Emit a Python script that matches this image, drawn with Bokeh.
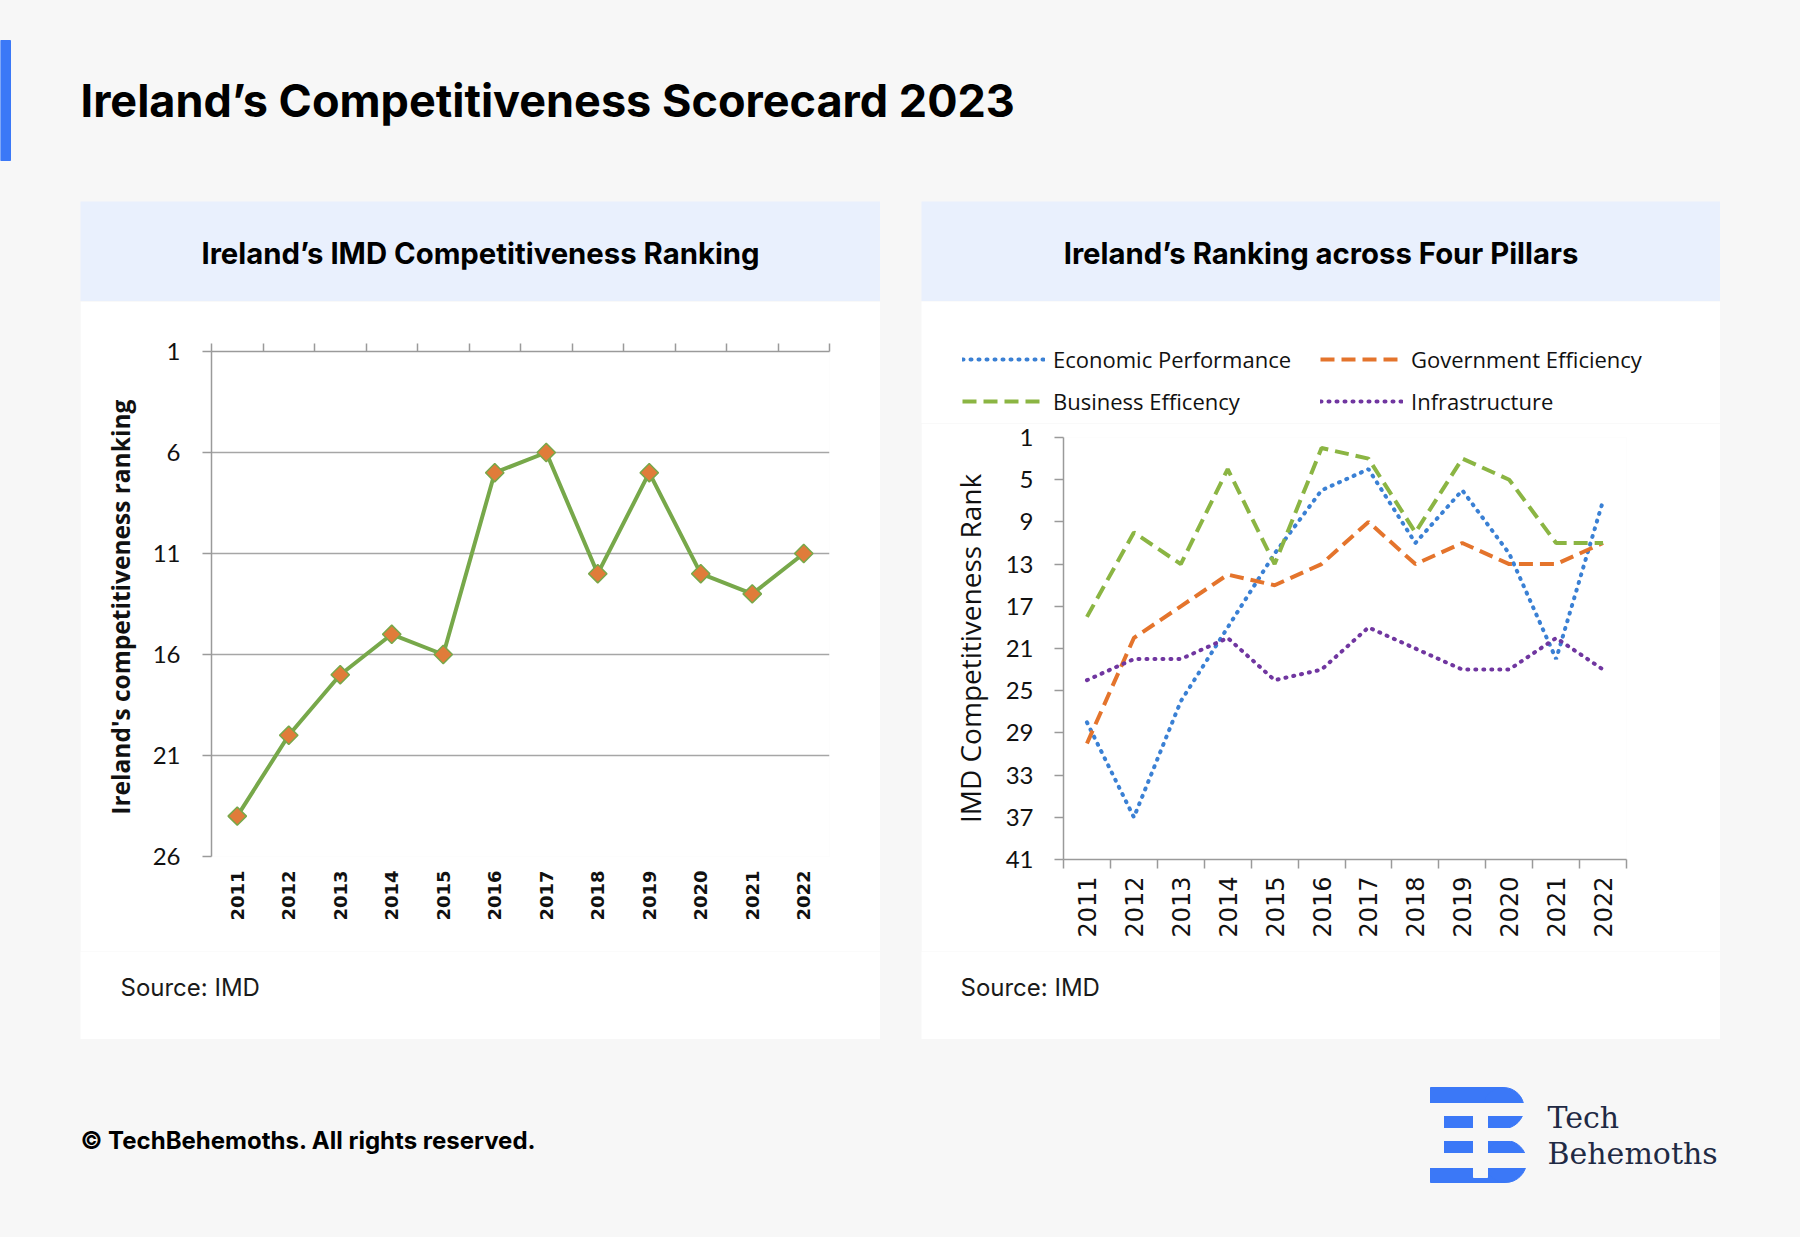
import numpy as np
from bokeh.plotting import figure
from bokeh.models import (Range1d, FactorRange, LinearAxis, CategoricalAxis, FixedTicker,
                          Label, Legend, LegendItem, Spacer)
from bokeh.layouts import column, row
from bokeh.embed import file_html
from bokeh.resources import INLINE

# ---------------- data ----------------
years = ["2011", "2012", "2013", "2014", "2015", "2016", "2017", "2018", "2019", "2020", "2021", "2022"]
overall_rank = [24, 20, 17, 15, 16, 7, 6, 12, 7, 12, 13, 11]
left_ticks = [1, 6, 11, 16, 21, 26]

econ_perf = [28, 37, 26, 19, 12, 6, 4, 11, 6, 12, 22, 7]
gov_eff = [30, 20, 17, 14, 15, 13, 9, 13, 11, 13, 13, 11]
bus_eff = [18, 10, 13, 4, 13, 2, 3, 10, 3, 5, 11, 11]
infra = [24, 22, 22, 20, 24, 23, 19, 21, 23, 23, 20, 23]
right_ticks = [1, 5, 9, 13, 17, 21, 25, 29, 33, 37, 41]

pillar_names = ["Economic Performance", "Government Efficiency", "Business Efficency", "Infrastructure"]

# ---------------- styles ----------------
BG = "#F7F7F7"
BAND = "#E9F0FD"
AX = "#9A9A9A"
GRID = "#A6A6A6"
GREEN = "#77A84A"
ORANGE_MK = "#E07C3A"
C_EP = "#3A80D4"
C_GE = "#E4742C"
C_BE = "#8BB543"
C_IN = "#7036A0"
STYLES = [dict(line_color=C_EP, line_dash="1 7", line_cap="round"),
          dict(line_color=C_GE, line_dash="14 7"),
          dict(line_color=C_BE, line_dash="14 7"),
          dict(line_color=C_IN, line_dash="1 7", line_cap="round")]

L_W, R_W = 800, 799


def canvas(w, h, xr, yr, fill):
    p = figure(width=w, height=h, x_range=xr, y_range=yr, output_backend="svg",
               toolbar_location=None, tools="", x_axis_location=None, y_axis_location=None,
               min_border=0)
    p.outline_line_color = None
    p.background_fill_color = fill
    p.border_fill_color = fill
    p.grid.visible = False
    return p


# ---------------- top header ----------------
top = canvas(1800, 201, Range1d(0, 1800), Range1d(201, 0), BG)
top.quad(left=0, right=10, top=40, bottom=160, color="#3B78F7")
top.add_layout(Label(x=80, y=100, text="Ireland\u2019s Competitiveness Scorecard 2023",
                     text_font="Inter", text_font_style="bold", text_font_size="45px",
                     text_color="#000000", text_baseline="middle"))


def panel_header(w, text):
    h = canvas(w, 100, Range1d(0, w), Range1d(301, 201), BAND)
    h.add_layout(Label(x=w / 2, y=253, text=text, text_font="Inter", text_font_style="bold",
                       text_font_size="29.3px", text_color="#000000",
                       text_align="center", text_baseline="middle"))
    return row(h, spacing=0)


def source_fig(w, x):
    s = canvas(w, 88, Range1d(0, w), Range1d(1039, 951), "white")
    s.add_layout(Label(x=x, y=987, text="Source: IMD", text_font="Inter",
                       text_font_size="24px", text_color="#1a1a1a", text_baseline="middle"))
    return row(s, spacing=0)


def boundary_axis(tick_len):
    # ticks on the category boundaries (synthetic coordinates 0..n of the factor range)
    bounds = list(range(len(years) + 1))
    return LinearAxis(ticker=FixedTicker(ticks=bounds),
                      major_label_overrides={b: "" for b in bounds},
                      major_label_text_font_size="1px", major_label_standoff=0,
                      major_tick_out=tick_len, major_tick_in=0, minor_tick_out=0, minor_tick_in=0,
                      axis_line_color=AX, axis_line_width=1.5, major_tick_line_color=AX,
                      major_tick_line_width=1.5)


# ---------------- left chart ----------------
lc = figure(width=L_W, height=650, x_range=FactorRange(*years, range_padding=0),
            y_range=Range1d(left_ticks[-1], left_ticks[0]), output_backend="svg",
            toolbar_location=None, tools="", x_axis_location=None, y_axis_location="left",
            min_border_left=131, min_border_right=51, min_border_top=50, min_border_bottom=95)
lc.outline_line_color = None
lc.background_fill_color = "white"
lc.border_fill_color = "white"
lc.xgrid.visible = False
lc.ygrid.ticker = FixedTicker(ticks=left_ticks)
lc.ygrid.grid_line_color = GRID
lc.ygrid.grid_line_width = 1.5

ya = lc.yaxis[0]
ya.ticker = FixedTicker(ticks=left_ticks)
ya.axis_line_color = AX
ya.axis_line_width = 1.5
ya.major_tick_line_color = AX
ya.major_tick_line_width = 1.5
ya.major_tick_out = 9
ya.major_tick_in = 0
ya.minor_tick_out = 0
ya.minor_tick_in = 0
ya.major_label_standoff = 22
ya.major_label_text_font = "Lato"
ya.major_label_text_font_size = "24px"
ya.major_label_text_color = "#111111"
ya.axis_label = "Ireland's  competitiveness ranking"
ya.axis_label_text_font = "Open Sans"
ya.axis_label_text_font_style = "bold"
ya.axis_label_text_font_size = "24.5px"
ya.axis_label_text_color = "#111111"
ya.axis_label_standoff = 13

lc.add_layout(boundary_axis(8), "above")

lx = CategoricalAxis(axis_line_color=None, major_tick_line_color=None, minor_tick_line_color=None,
                     major_label_orientation=np.pi / 2, major_label_standoff=8,
                     major_label_text_font="DejaVu Sans", major_label_text_font_style="bold",
                     major_label_text_font_size="18px", major_label_text_color="#111111")
lc.add_layout(lx, "below")

lc.line(x=years, y=overall_rank, line_color=GREEN, line_width=4)
lc.scatter(x=years, y=overall_rank, marker="square", angle=np.pi / 4, size=13,
           fill_color=ORANGE_MK, line_color=GREEN, line_width=1.5)

# ---------------- right chart ----------------
# legend strip above the chart (page y 301..423); key lines carry no visible points
lg = canvas(R_W, 122, Range1d(0, R_W), Range1d(423, 301), "white")
key_renderers = [lg.line(x=[np.nan], y=[np.nan], line_width=4, **st) for st in STYLES]
legend = Legend(items=[LegendItem(label=n, renderers=[r]) for n, r in zip(pillar_names, key_renderers)],
                orientation="horizontal", ncols=2, location=(41, 7),
                glyph_width=83, glyph_height=24, label_standoff=8, label_width=255,
                label_height=24, spacing=12, padding=0, margin=0,
                border_line_color=None, background_fill_alpha=0,
                label_text_font="Open Sans", label_text_font_size="22px",
                label_text_color="#111111")
lg.add_layout(legend, "center")

rc = figure(width=R_W, height=528, x_range=FactorRange(*years, range_padding=0),
            y_range=Range1d(right_ticks[-1], right_ticks[0]), output_backend="svg",
            toolbar_location=None, tools="", x_axis_location=None, y_axis_location="left",
            min_border_left=142, min_border_right=94, min_border_top=14, min_border_bottom=92)
rc.outline_line_color = None
rc.background_fill_color = "white"
rc.border_fill_color = "white"
rc.grid.visible = False

ry = rc.yaxis[0]
ry.ticker = FixedTicker(ticks=right_ticks)
ry.axis_line_color = AX
ry.axis_line_width = 1.5
ry.major_tick_line_color = AX
ry.major_tick_line_width = 1.5
ry.major_tick_out = 9
ry.major_tick_in = 0
ry.minor_tick_out = 0
ry.minor_tick_in = 0
ry.major_label_standoff = 21
ry.major_label_text_font = "Lato"
ry.major_label_text_font_size = "24px"
ry.major_label_text_color = "#111111"
ry.axis_label = "IMD Competitiveness Rank"
ry.axis_label_text_font = "Open Sans"
ry.axis_label_text_font_style = "normal"
ry.axis_label_text_font_size = "28px"
ry.axis_label_text_color = "#111111"
ry.axis_label_standoff = 14

rc.add_layout(boundary_axis(9), "below")
rx = CategoricalAxis(axis_line_color=None, major_tick_line_color=None, minor_tick_line_color=None,
                     major_label_orientation=np.pi / 2, major_label_standoff=2,
                     major_label_text_font="DejaVu Sans", major_label_text_font_size="24px",
                     major_label_text_color="#111111")
rc.add_layout(rx, "below")

for vals, st in zip([econ_perf, gov_eff, bus_eff, infra], STYLES):
    rc.line(x=years, y=vals, line_width=4, **st)

# ---------------- footer ----------------
foot = canvas(1800, 198, Range1d(0, 1800), Range1d(1237, 1039), BG)
foot.add_layout(Label(x=80, y=1140, text="\u00a9 TechBehemoths. All rights reserved.",
                      text_font="Inter", text_font_style="bold", text_font_size="24px",
                      text_color="#000000", text_baseline="middle"))
LOGO = "#3B78F7"
foot.quad(left=1430, right=1503, top=1087, bottom=1128, color=LOGO)
foot.ellipse(x=1503, y=1107.5, width=41, height=41, color=LOGO)
foot.quad(left=1430, right=1505, top=1140, bottom=1182, color=LOGO)
foot.ellipse(x=1505, y=1161, width=42, height=42, color=LOGO)
foot.quad(left=1425, right=1530, top=1103, bottom=1115, color=BG)
foot.quad(left=1425, right=1530, top=1128, bottom=1140, color=BG)
foot.quad(left=1425, right=1530, top=1153, bottom=1167, color=BG)
foot.quad(left=1473, right=1487, top=1115, bottom=1177, color=BG)
foot.quad(left=1426, right=1443, top=1103, bottom=1167, color=BG)
foot.add_layout(Label(x=1547, y=1117, text="Tech", text_font="DejaVu Serif", text_font_size="30px",
                      text_color="#1F2A44", text_baseline="middle"))
foot.add_layout(Label(x=1547, y=1153, text="Behemoths", text_font="DejaVu Serif", text_font_size="30px",
                      text_color="#1F2A44", text_baseline="middle"))

# ---------------- layout ----------------
left_panel = column(panel_header(L_W, "Ireland\u2019s IMD Competitiveness Ranking"), lc,
                    source_fig(L_W, 40), spacing=0)
right_panel = column(panel_header(R_W, "Ireland\u2019s Ranking across Four Pillars"), row(lg, spacing=0), rc,
                     source_fig(R_W, 39), spacing=0)
mid = row(Spacer(width=80, height=838, styles={"background-color": BG}), left_panel,
          Spacer(width=41, height=838, styles={"background-color": BG}), right_panel,
          Spacer(width=80, height=838, styles={"background-color": BG}), spacing=0)
page = column(top, mid, foot, spacing=0, styles={"background-color": BG})

open("out.html", "w").write(file_html(page, INLINE))
